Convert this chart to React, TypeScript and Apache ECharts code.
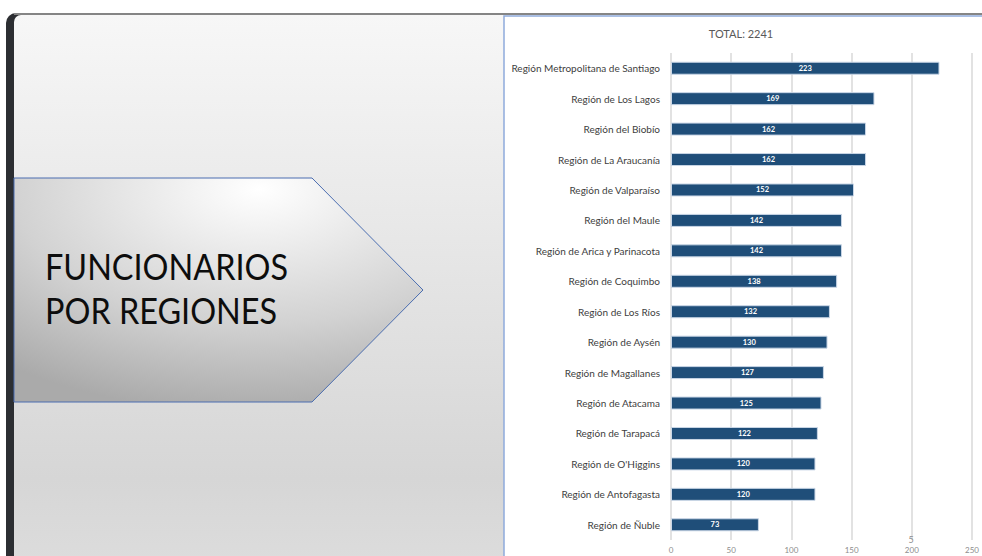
import React, { useEffect, useRef } from "react";
import * as echarts from "echarts";

const regions = [
  "Región Metropolitana de Santiago",
  "Región de Los Lagos",
  "Región del Biobío",
  "Región de La Araucanía",
  "Región de Valparaíso",
  "Región del Maule",
  "Región de Arica y Parinacota",
  "Región de Coquimbo",
  "Región de Los Ríos",
  "Región de Aysén",
  "Región de Magallanes",
  "Región de Atacama",
  "Región de Tarapacá",
  "Región de O'Higgins",
  "Región de Antofagasta",
  "Región de Ñuble",
];
const funcionarios = [223, 169, 162, 162, 152, 142, 142, 138, 132, 130, 127, 125, 122, 120, 120, 73];
const totalLabel = "TOTAL: 2241";
const headline = ["FUNCIONARIOS", "POR REGIONES"];
const axisMin = 0;
const axisMax = 250;
const axisStep = 50;

export default function App() {
  const ref = useRef<HTMLDivElement>(null);
  useEffect(() => {
    if (!ref.current) return;
    const chart = echarts.init(ref.current, null, { renderer: "svg" });
    const font = "Lato, 'Open Sans', sans-serif";
    chart.setOption({
      animation: false,
      backgroundColor: "#ffffff",
      graphic: [
        {
          type: "rect",
          z: -20,
          silent: true,
          shape: { x: 6, y: 13, width: 40, height: 560, r: [10, 0, 0, 0] },
          style: { fill: "#2c2e32" },
        },
        {
          type: "rect",
          z: -19,
          silent: true,
          shape: { x: 14, y: 13, width: 968, height: 2 },
          style: { fill: "#858585" },
        },
        {
          type: "rect",
          z: -18,
          silent: true,
          shape: { x: 14, y: 15, width: 490, height: 545, r: [7, 0, 0, 0] },
          style: {
            fill: {
              type: "linear",
              x: 0,
              y: 0,
              x2: 0,
              y2: 1,
              colorStops: [
                { offset: 0, color: "#f7f7f7" },
                { offset: 0.85, color: "#d6d6d6" },
                { offset: 1, color: "#dcdcdc" },
              ],
            },
          },
        },
        {
          type: "rect",
          z: -17,
          silent: true,
          shape: { x: 504, y: 16, width: 490, height: 560 },
          style: { fill: "#ffffff", stroke: "#8faadc", lineWidth: 1.5 },
        },
        {
          type: "polygon",
          z: -16,
          silent: true,
          shape: {
            points: [
              [14, 178],
              [312, 178],
              [423, 290],
              [312, 402],
              [14, 402],
            ],
          },
          style: {
            fill: {
              type: "radial",
              x: 0.6,
              y: 0.05,
              r: 1.0,
              colorStops: [
                { offset: 0, color: "#ffffff" },
                { offset: 0.6, color: "#d2d2d2" },
                { offset: 1, color: "#aaaaaa" },
              ],
            },
            stroke: "#4a6db0",
            lineWidth: 1,
          },
        },
        {
          type: "text",
          z: -15,
          silent: true,
          x: 45,
          y: 266,
          scaleX: 0.9,
          style: {
            text: headline[0],
            fontFamily: font,
            fontSize: 36,
            fill: "#0d0d0d",
            verticalAlign: "middle",
          },
        },
        {
          type: "text",
          z: -15,
          silent: true,
          x: 45,
          y: 310,
          scaleX: 0.9,
          style: {
            text: headline[1],
            fontFamily: font,
            fontSize: 36,
            fill: "#0d0d0d",
            verticalAlign: "middle",
          },
        },
        {
          type: "text",
          z: -15,
          silent: true,
          x: 741,
          y: 33,
          style: {
            text: totalLabel,
            fontFamily: font,
            fontSize: 11,
            fill: "#595959",
            align: "center",
            verticalAlign: "middle",
          },
        },
        {
          type: "text",
          z: 5,
          silent: true,
          x: 911,
          y: 539,
          style: {
            text: "5",
            fontFamily: font,
            fontSize: 9,
            fill: "#8c8c8c",
            align: "center",
            verticalAlign: "middle",
          },
        },
      ],
      grid: { left: 671, right: 10, top: 53, bottom: 16, containLabel: false },
      xAxis: {
        type: "value",
        min: axisMin,
        max: axisMax,
        interval: axisStep,
        axisLine: { show: false },
        axisTick: { show: false },
        splitLine: { show: true, lineStyle: { color: "#d9d9d9", width: 1.5 } },
        axisLabel: { fontFamily: font, fontSize: 8, color: "#8c8c8c", margin: 6 },
      },
      yAxis: {
        type: "category",
        inverse: true,
        data: regions,
        axisLine: { show: false },
        axisTick: { show: false },
        axisLabel: { fontFamily: font, fontSize: 10, color: "#404040", margin: 11 },
      },
      series: [
        {
          type: "bar",
          data: funcionarios,
          barWidth: 13,
          itemStyle: { color: "#1f4e79", borderColor: "#c9d6e6", borderWidth: 1 },
          label: {
            show: true,
            position: "inside",
            color: "#ffffff",
            fontFamily: font,
            fontSize: 7.5,
            fontWeight: "bold",
          },
        },
      ],
    });
    return () => chart.dispose();
  }, []);
  return (
    <div
      ref={ref}
      style={{ position: "fixed", left: 0, top: 0, width: 982, height: 556 }}
    />
  );
}
